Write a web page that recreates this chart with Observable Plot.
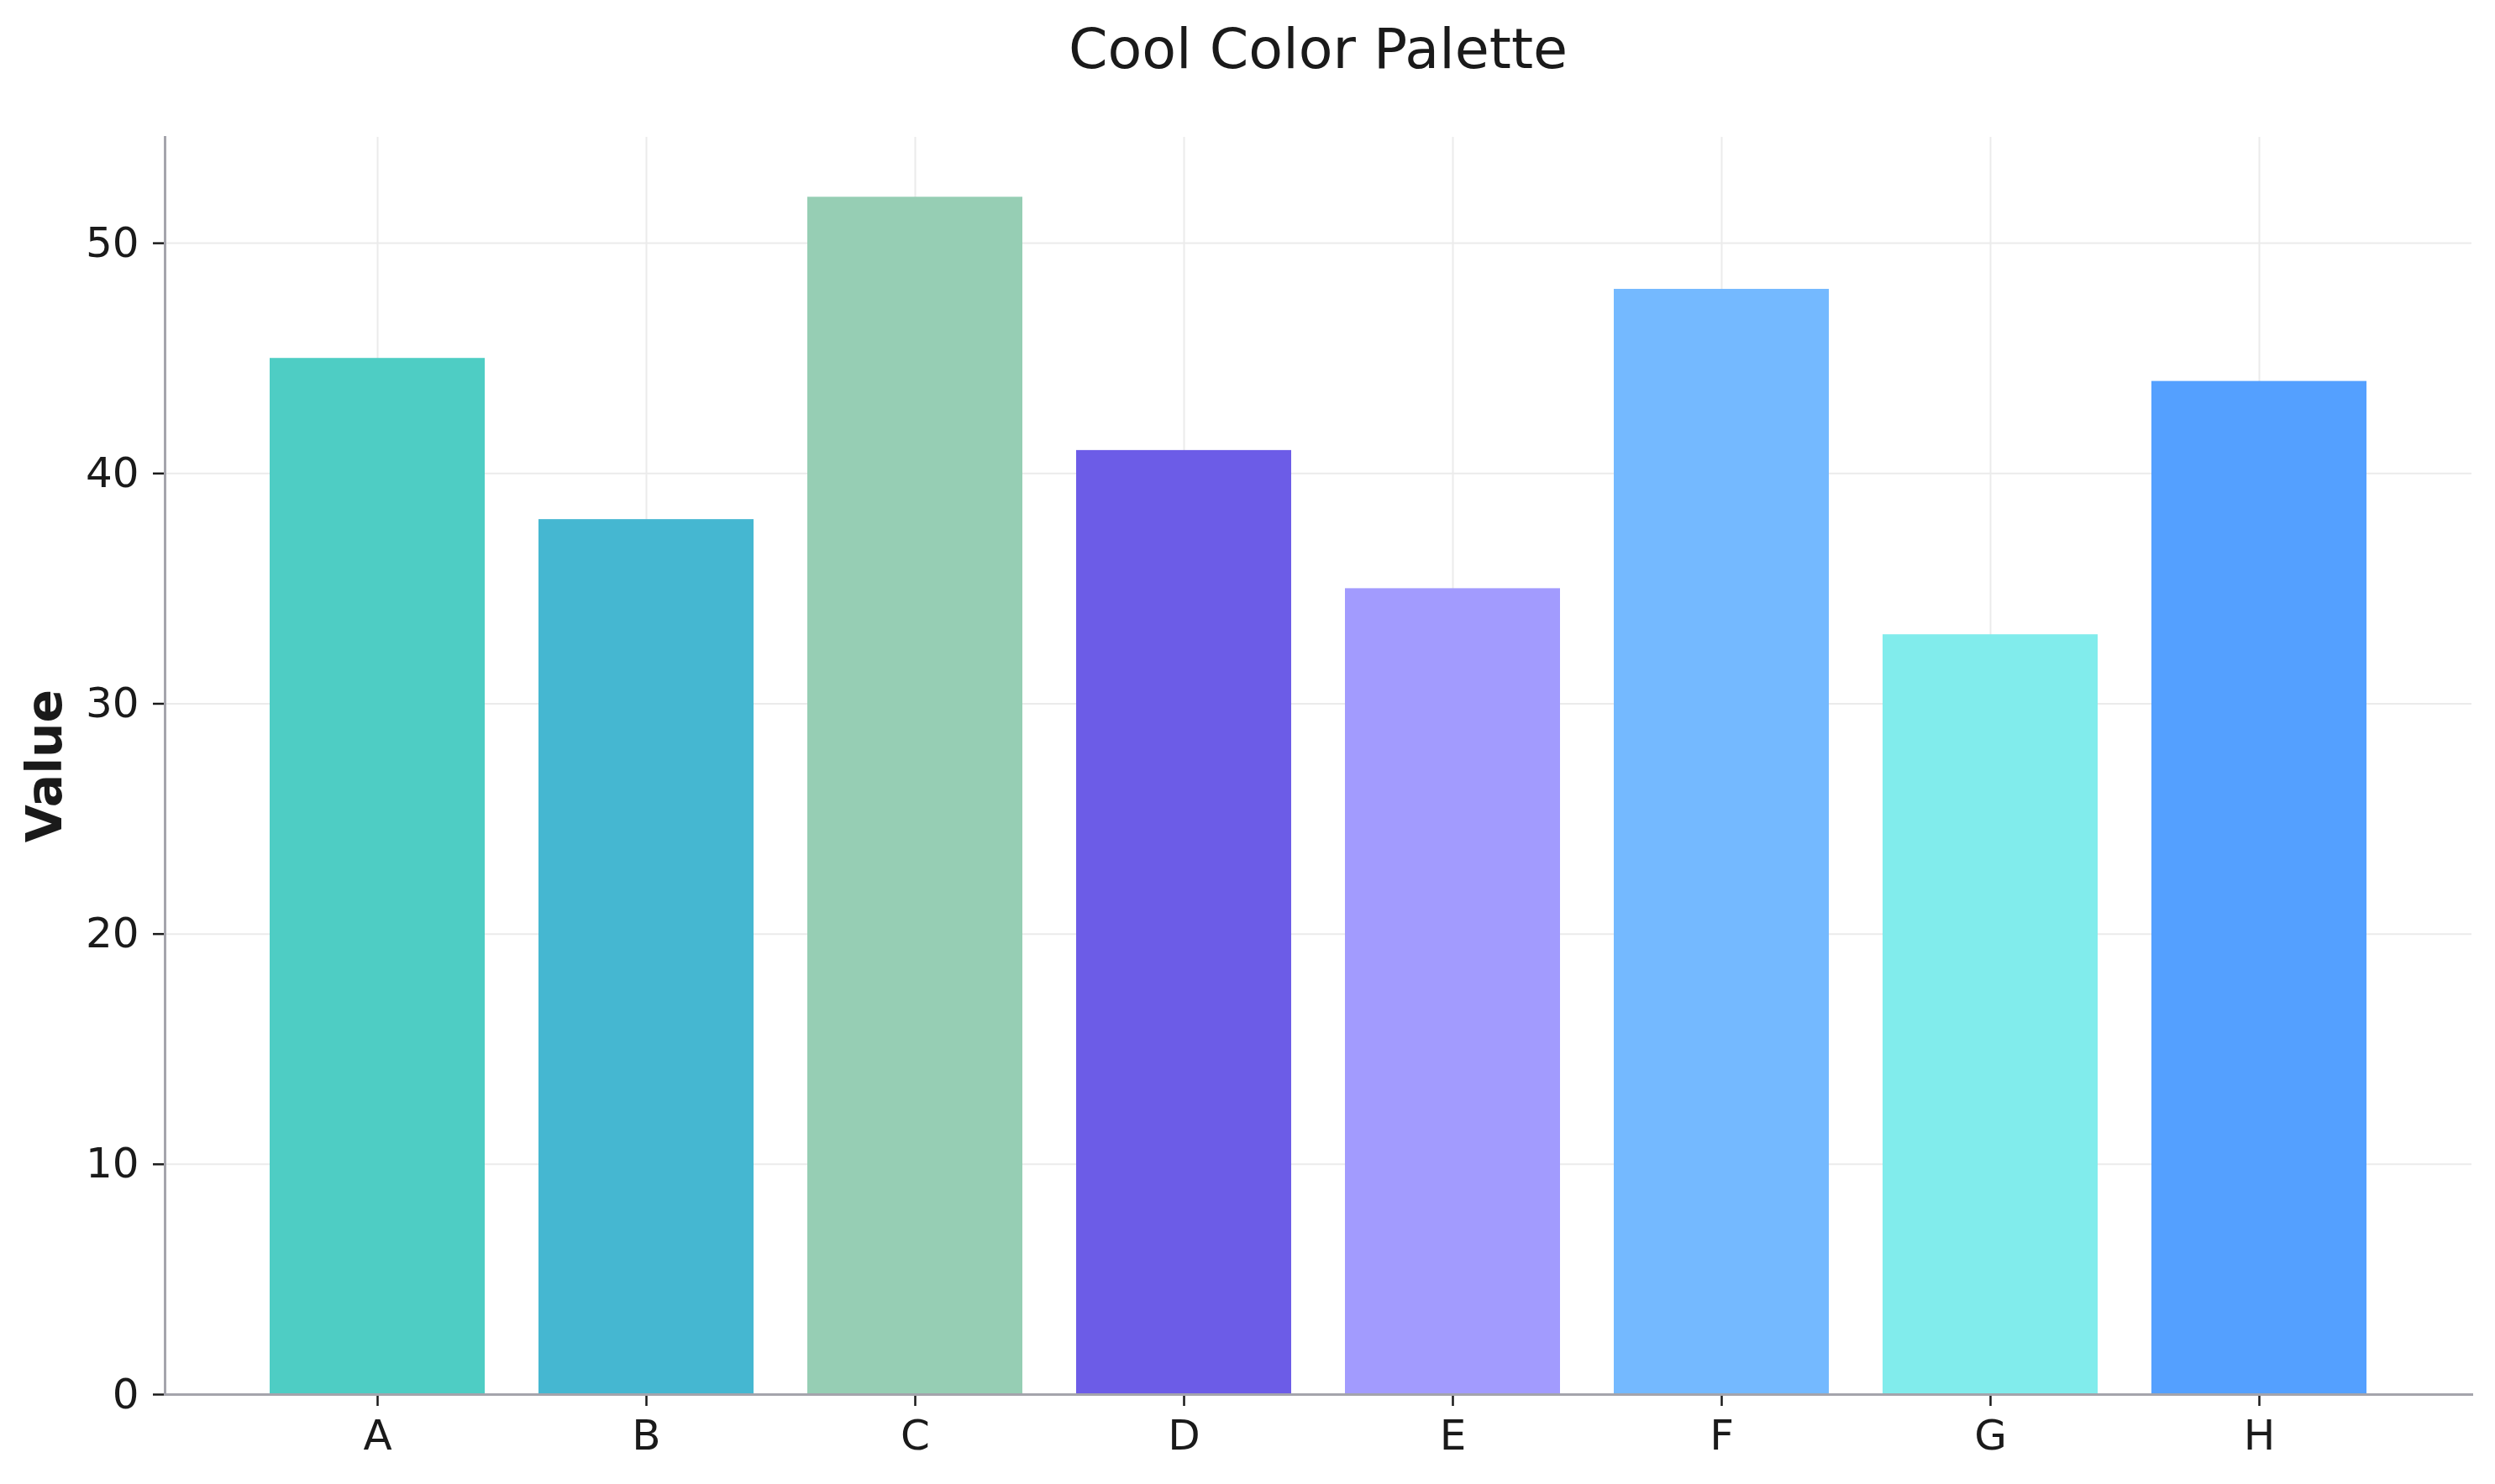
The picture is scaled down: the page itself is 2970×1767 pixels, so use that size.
<!DOCTYPE html>
<html>
<head>
<meta charset="utf-8">
<script src="https://cdn.jsdelivr.net/npm/d3@7"></script>
<script src="https://cdn.jsdelivr.net/npm/@observablehq/plot@0.6"></script>
<style>
  html, body { margin: 0; padding: 0; background: #ffffff; }
  #wrap { position: relative; width: 2970px; height: 1767px; overflow: hidden; background: #fff; }
  #title { position: relative; height: 120px; width: 2970px; }
  #title span {
    position: absolute; left: 1569px; top: 25px; transform: translateX(-50%);
    font-family: "DejaVu Sans", sans-serif; font-size: 66.7px; line-height: 1;
    color: #1a1a1a; white-space: nowrap;
  }
  svg { display: block; }
</style>
</head>
<body>
<div id="wrap">
  <div id="title"><span>Cool Color Palette</span></div>
  <div id="chart"></div>
</div>
<script>
const categories = ["A", "B", "C", "D", "E", "F", "G", "H"];
const values = [45, 38, 52, 41, 35, 48, 33, 44];
const colors = ["#4ECDC4", "#45B7D1", "#96CEB4", "#6C5CE7", "#A29BFE", "#74B9FF", "#81ECEC", "#54A0FF"];
const yTicks = [0, 10, 20, 30, 40, 50];
const yLabel = "Value";

const data = categories.map((c, i) => ({category: c, value: values[i], color: colors[i]}));

const spine = "#a4a4ac";
const ink = "#1a1a1a";

const chart = Plot.plot({
  width: 2970,
  height: 1647,
  marginTop: 43,
  marginBottom: 107,
  marginLeft: 196,
  marginRight: 28,
  style: {fontFamily: "DejaVu Sans, sans-serif", fontSize: "50px", color: ink, background: "#ffffff"},
  x: {domain: categories, paddingInner: 0.2, paddingOuter: 0.39, align: 0.5},
  y: {domain: [0, 54.6]},
  color: {type: "identity"},
  marks: [
    Plot.gridX({stroke: "#ebebeb", strokeOpacity: 1, strokeWidth: 2}),
    Plot.gridY({ticks: yTicks, stroke: "#ebebeb", strokeOpacity: 1, strokeWidth: 2}),
    Plot.barY(data, {x: "category", y: "value", fill: "color"}),
    Plot.axisX({tickSize: 14, tickPadding: 16, label: null, stroke: ink, strokeWidth: 2.5, fontSize: 50, color: ink}),
    Plot.axisY({ticks: yTicks, tickSize: 14, tickPadding: 17, label: null, stroke: ink, strokeWidth: 2.5, fontSize: 50, tickFormat: d => String(d)}),
    Plot.frame({anchor: "left", stroke: spine, strokeWidth: 3}),
    Plot.frame({anchor: "bottom", stroke: spine, strokeWidth: 3}),
    Plot.text([yLabel], {text: d => d, frameAnchor: "left", rotate: -90, dx: -142, fontWeight: "bold", fontSize: 58.3, textAnchor: "middle", lineAnchor: "middle", fill: ink})
  ]
});
document.getElementById("chart").appendChild(chart);
</script>
</body>
</html>
